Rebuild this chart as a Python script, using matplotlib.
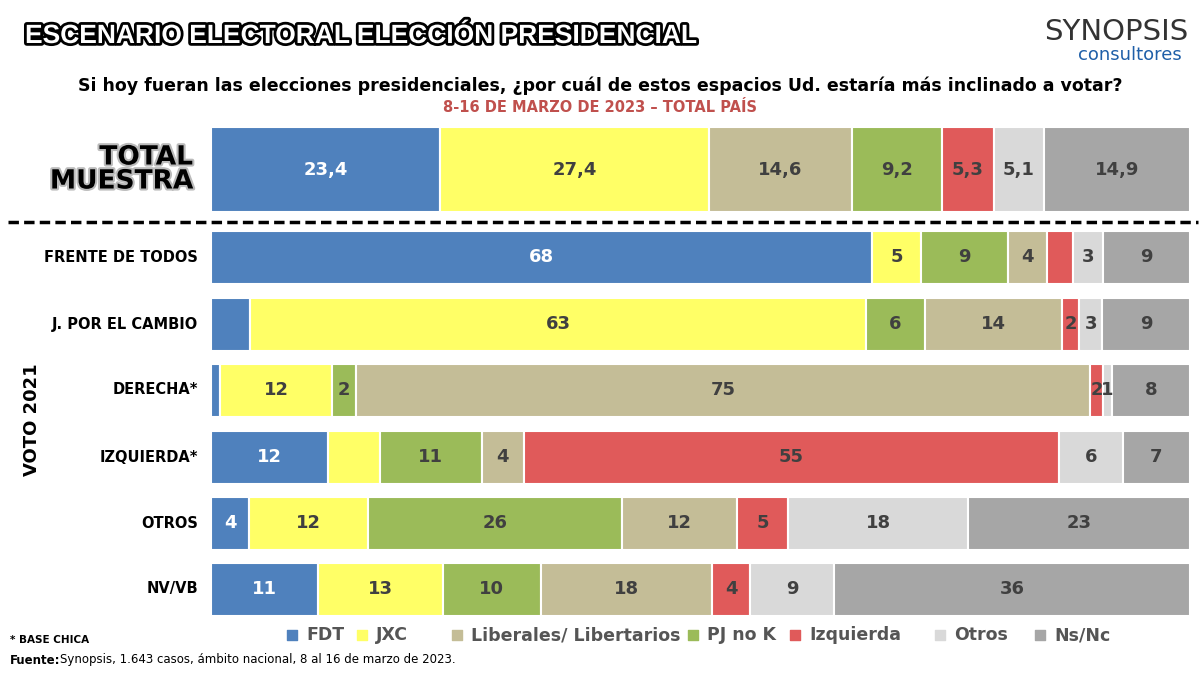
import matplotlib
matplotlib.use("Agg")
import matplotlib.pyplot as plt
import matplotlib.patheffects as pe

rows = ["TOTAL\nMUESTRA", "FRENTE DE TODOS", "J. POR EL CAMBIO", "DERECHA*", "IZQUIERDA*", "OTROS", "NV/VB"]
# per-row segments (series key, value, label)
segs = [
    [("FDT", 23.4, "23,4"), ("JXC", 27.4, "27,4"), ("LIB", 14.6, "14,6"), ("PJ", 9.2, "9,2"), ("IZQ", 5.3, "5,3"), ("OTR", 5.1, "5,1"), ("NS", 14.9, "14,9")],
    [("FDT", 68, "68"), ("JXC", 5, "5"), ("PJ", 9, "9"), ("LIB", 4, "4"), ("IZQ", 2.7, ""), ("OTR", 3, "3"), ("NS", 9, "9")],
    [("FDT", 4, ""), ("JXC", 63, "63"), ("PJ", 6, "6"), ("LIB", 14, "14"), ("IZQ", 1.8, "2"), ("OTR", 2.3, "3"), ("NS", 9, "9")],
    [("FDT", 0.9, ""), ("JXC", 11.5, "12"), ("PJ", 2.4, "2"), ("LIB", 75, "75"), ("IZQ", 1.3, "2"), ("OTR", 0.9, "1"), ("NS", 8, "8")],
    [("FDT", 12, "12"), ("JXC", 5.3, ""), ("PJ", 10.5, "11"), ("LIB", 4.3, "4"), ("IZQ", 55, "55"), ("OTR", 6.5, "6"), ("NS", 6.9, "7")],
    [("FDT", 3.9, "4"), ("JXC", 12.2, "12"), ("PJ", 26, "26"), ("LIB", 11.8, "12"), ("IZQ", 5.2, "5"), ("OTR", 18.5, "18"), ("NS", 22.7, "23")],
    [("FDT", 11, "11"), ("JXC", 12.8, "13"), ("PJ", 10, "10"), ("LIB", 17.6, "18"), ("IZQ", 3.9, "4"), ("OTR", 8.6, "9"), ("NS", 36.5, "36")],
]
legend_keys = ["FDT", "JXC", "LIB", "PJ", "IZQ", "OTR", "NS"]
legend_names = ["FDT", "JXC", "Liberales/ Libertarios", "PJ no K", "Izquierda", "Otros", "Ns/Nc"]
colors = {"FDT": "#4F81BD", "JXC": "#FFFF66", "LIB": "#C4BD97", "PJ": "#9BBB59",
          "IZQ": "#E05A5A", "OTR": "#D9D9D9", "NS": "#A6A6A6"}

W, H = 1200, 674
fig = plt.figure(figsize=(12, 6.74), dpi=100)
fig.patch.set_facecolor("white")
ax = fig.add_axes([0, 0, 1, 1])
ax.set_xlim(0, W); ax.set_ylim(H, 0); ax.axis("off")

x0, x1 = 211, 1190
centers = [169.5, 257, 324, 390, 457, 523, 589]
heights = [85, 53, 53, 53, 53, 53, 53]

for i, row in enumerate(segs):
    left = x0
    tot = sum(v for _, v, _ in row)
    sc = (x1 - x0) / tot
    for k, v, lab in row:
        w = v * sc
        ax.barh(centers[i], w, height=heights[i], left=left, color=colors[k],
                edgecolor="white", linewidth=1.5)
        if lab:
            ax.text(left + w / 2, centers[i], lab, ha="center", va="center",
                    fontsize=13, fontweight="bold",
                    color="white" if k == "FDT" else "#404040")
        left += w
    if i == 0:
        ax.text(193, centers[i], rows[i], ha="right", va="center", fontsize=19,
                fontweight="bold", color="black", linespacing=0.9,
                path_effects=[pe.withStroke(linewidth=3, foreground="#BBBBBB")])
    else:
        ax.text(198, centers[i], rows[i], ha="right", va="center", fontsize=10.5,
                fontweight="bold", color="black")

ax.plot([8, 1198], [222, 222], color="black", linestyle=(0, (3, 1.5)), linewidth=2.5)
ax.text(32, 420, "VOTO 2021", rotation=90, ha="center", va="center", fontsize=13, fontweight="bold")

ax.text(25, 36, "ESCENARIO ELECTORAL ELECCIÓN PRESIDENCIAL", ha="left", va="center",
        fontsize=19, fontweight="bold", color="white", family="Liberation Sans",
        path_effects=[pe.withStroke(linewidth=4, foreground="black")])
ax.text(1116, 32, "SYNOPSIS", ha="center", va="center", fontsize=21, color="#333333")
ax.text(1130, 55, "consultores", ha="center", va="center", fontsize=13, color="#1F5FA8")
ax.text(600, 86, "Si hoy fueran las elecciones presidenciales, ¿por cuál de estos espacios Ud. estaría más inclinado a votar?",
        ha="center", va="center", fontsize=12.5, fontweight="bold")
ax.text(600, 108, "8-16 DE MARZO DE 2023 – TOTAL PAÍS", ha="center", va="center",
        fontsize=10.5, fontweight="bold", color="#C0504D")

lx = [292, 362, 457, 693, 795, 940, 1040]
for x, k, n in zip(lx, legend_keys, legend_names):
    ax.scatter([x], [635], marker="s", s=45, color=colors[k])
    ax.text(x + 14, 635, n, ha="left", va="center", fontsize=12.5, fontweight="bold", color="#555555")

ax.text(10, 640, "* BASE CHICA", ha="left", va="center", fontsize=7.5, fontweight="bold")
ax.text(10, 660, "Fuente:", ha="left", va="center", fontsize=8.5, fontweight="bold")
ax.text(60, 660, "Synopsis, 1.643 casos, ámbito nacional, 8 al 16 de marzo de 2023.",
        ha="left", va="center", fontsize=8.5)

fig.savefig("out.png", dpi=100)
